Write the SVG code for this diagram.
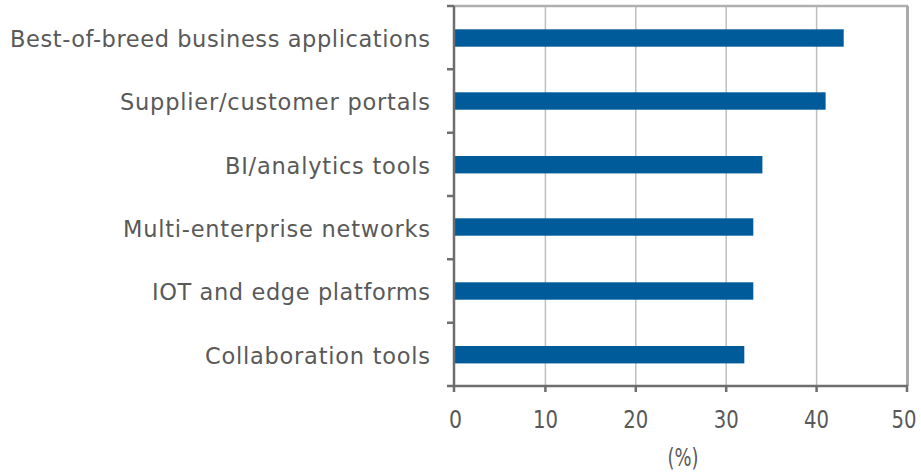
<svg xmlns="http://www.w3.org/2000/svg" width="921" height="473" viewBox="0 0 921 473">
<style>
.lbl{font-family:"DejaVu Sans",sans-serif;font-size:22.5px;fill:#595959;text-anchor:end}
.tick{font-family:"DejaVu Sans",sans-serif;font-size:25.5px;fill:#595959;text-anchor:middle;font-stretch:condensed}
.grid{stroke:#bfbfbf;stroke-width:1.5}
.bar{fill:#005b9a}
.ax{stroke:#6e6e6e;stroke-width:2.5;fill:none}
</style>
<rect width="921" height="473" fill="#fff"/>
<g id="grid">
<line class="grid" x1="545.4" y1="6" x2="545.4" y2="386"/>
<line class="grid" x1="635.8" y1="6" x2="635.8" y2="386"/>
<line class="grid" x1="726.2" y1="6" x2="726.2" y2="386"/>
<line class="grid" x1="816.6" y1="6" x2="816.6" y2="386"/>
<line x1="454" y1="6" x2="908" y2="6" stroke="#b0b0b0" stroke-width="2.5"/>
<line x1="907.5" y1="6" x2="907.5" y2="386" stroke="#aaaaaa" stroke-width="3"/>
</g>
<g id="bars">
<rect class="bar" x="455" y="29.3" width="388.7" height="17.4"/>
<rect class="bar" x="455" y="92.3" width="370.6" height="17.4"/>
<rect class="bar" x="455" y="156" width="307.4" height="17.4"/>
<rect class="bar" x="455" y="218.3" width="298.3" height="17.4"/>
<rect class="bar" x="455" y="282.3" width="298.3" height="17.4"/>
<rect class="bar" x="455" y="346" width="289.3" height="17.4"/>
</g>
<g id="axes">
<path class="ax" d="M454 6V386H908"/>
<path class="ax" d="M447 6H454M447 69.3H454M447 132.7H454M447 196H454M447 259.3H454M447 322.7H454M447 386H454"/>
<path class="ax" d="M454 386V392M545.4 386V392M635.8 386V392M726.2 386V392M816.6 386V392M907 386V392"/>
</g>
<g id="labels">
<text class="lbl" x="430" y="47" textLength="420" lengthAdjust="spacing">Best-of-breed business applications</text>
<text class="lbl" x="430" y="110" textLength="310" lengthAdjust="spacing">Supplier/customer portals</text>
<text class="lbl" x="430" y="173.5" textLength="205" lengthAdjust="spacing">BI/analytics tools</text>
<text class="lbl" x="430" y="236.5" textLength="307" lengthAdjust="spacing">Multi-enterprise networks</text>
<text class="lbl" x="430" y="300" textLength="278" lengthAdjust="spacing">IOT and edge platforms</text>
<text class="lbl" x="430" y="363.5" textLength="225" lengthAdjust="spacing">Collaboration tools</text>
</g>
<g id="ticks">
<text class="tick" x="455.5" y="428" textLength="13" lengthAdjust="spacingAndGlyphs">0</text>
<text class="tick" x="545.4" y="428" textLength="25" lengthAdjust="spacingAndGlyphs">10</text>
<text class="tick" x="635.8" y="428" textLength="25" lengthAdjust="spacingAndGlyphs">20</text>
<text class="tick" x="726.2" y="428" textLength="25" lengthAdjust="spacingAndGlyphs">30</text>
<text class="tick" x="816.6" y="428" textLength="25" lengthAdjust="spacingAndGlyphs">40</text>
<text class="tick" x="904" y="428" textLength="25" lengthAdjust="spacingAndGlyphs">50</text>
<text class="tick" x="683" y="466" textLength="31" lengthAdjust="spacingAndGlyphs">(%)</text>
</g>
</svg>
